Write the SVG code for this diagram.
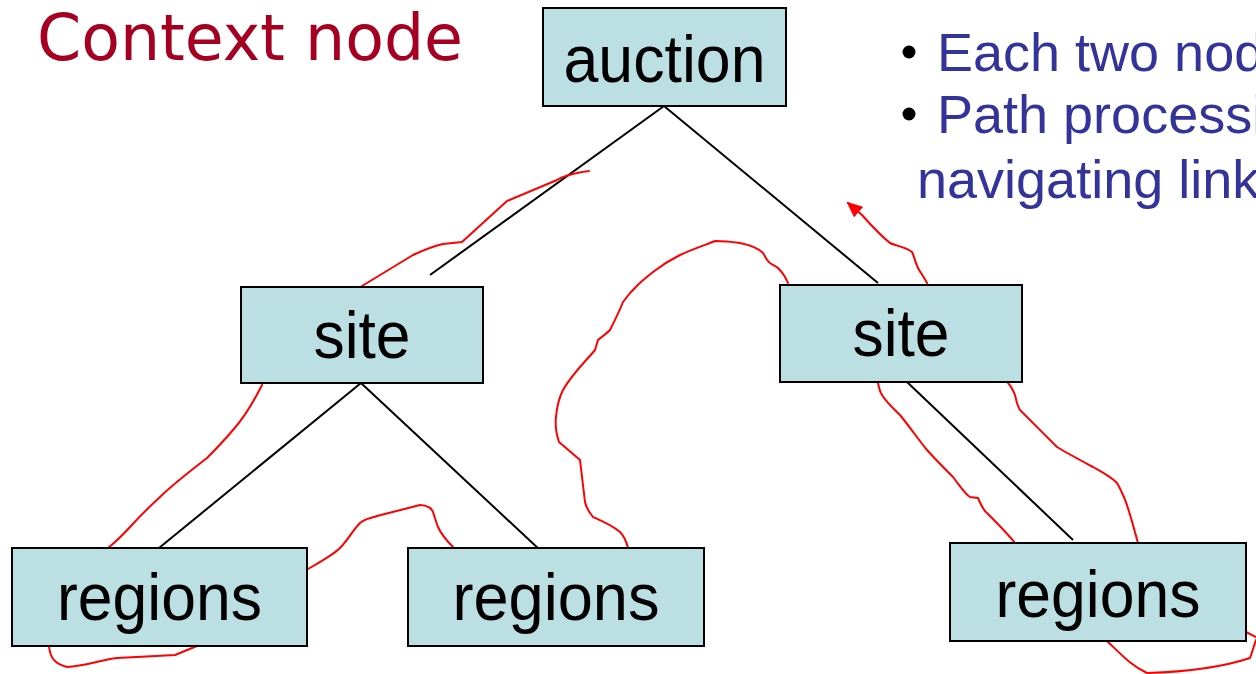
<svg xmlns="http://www.w3.org/2000/svg" width="1256" height="674" viewBox="0 0 1256 674">
<style>
.box{fill:#bbdfe3;stroke:#000;stroke-width:2}
.lbl{font-family:"Liberation Sans",Arial,sans-serif;font-size:67px;fill:#000;text-anchor:middle}
.edge{stroke:#000;stroke-width:2;fill:none}
.trace{stroke:#ff0000;stroke-width:2;fill:none;stroke-linejoin:round;stroke-linecap:round}
.bullet{font-family:"Liberation Sans",Arial,sans-serif;font-size:54px;fill:#333399}
</style>
<defs>
<marker id="arr" markerWidth="16" markerHeight="14" refX="14" refY="7" orient="auto" markerUnits="userSpaceOnUse" viewBox="0 0 16 14">
<path d="M0,0 L16,7 L0,14 Z" fill="#ff0000"/>
</marker>
</defs>
<rect width="1256" height="674" fill="#fff"/>
<text x="37" y="60" font-family="DejaVu Sans,Verdana,sans-serif" font-size="64" fill="#a50021" textLength="426" lengthAdjust="spacingAndGlyphs">Context node</text>
<g id="notes">
<circle cx="909" cy="52" r="6.5" fill="#000"/>
<circle cx="909" cy="114" r="6.5" fill="#000"/>
<text class="bullet" x="937" y="71">Each two nod</text>
<text class="bullet" x="937" y="133">Path processi</text>
<text class="bullet" x="917" y="198">navigating link</text>
</g>
<g id="connectors">
<line class="edge" x1="664" y1="106" x2="430" y2="275"/>
<line class="edge" x1="664" y1="106" x2="878" y2="283"/>
<line class="edge" x1="361" y1="383" x2="159" y2="548"/>
<line class="edge" x1="361" y1="383" x2="541" y2="551"/>
<line class="edge" x1="907" y1="382" x2="1073" y2="540"/>
</g>
<g id="traversal">
<path class="trace" d="M589,171 C575,173 563,176 557,180 L507,201 L462,242 L443,244 C430,247 413,255 413,255 L362,286"/>
<path class="trace" d="M262,385 C252,405 242,420 233,430 C222,443 214,451 207,458 C185,475 170,487 160,497 C148,508 140,516 130,527 C120,538 113,544 108,548"/>
<path class="trace" d="M49,646 C50,658 55,664 67,667 C85,666 100,660 117,658 L175,655 L197,646"/>
<path class="trace" d="M308,569 C320,562 333,555 340,548 C348,540 353,530 360,523 C366,518 372,518 377,516 L420,505 C428,505 432,509 433,512 C435,518 436,522 438,527 C442,536 448,542 453,547"/>
<path class="trace" d="M628,548 C626,540 623,535 620,532 C612,525 600,520 593,517 C589,512 586,507 585,502 L580,460 L559,442 C556,433 555,425 556,417 C557,405 560,396 563,390 C572,374 585,362 595,350 L598,340 C603,336 607,333 610,330 C616,318 620,310 623,302 C633,288 643,280 653,272 C662,265 670,260 680,255 C693,249 705,245 715,241 C725,241 733,242 740,243 C750,245 758,248 763,253 C766,258 767,261 770,263 C773,265 776,266 778,268 C783,273 786,278 788,283"/>
<path class="trace" d="M878,383 C879,388 880,392 882,395 C887,403 894,409 900,415 C909,426 918,439 927,450 C936,460 944,468 953,477 C960,486 965,494 970,497 L978,498 C981,505 983,510 987,513 C997,523 1007,533 1015,543"/>
<path class="trace" d="M1107,641 C1120,653 1130,665 1147,673 C1180,672 1220,668 1250,658 C1253,650 1254,645 1256,640"/>
<path class="trace" d="M1246,632 L1256,637"/>
<path class="trace" d="M1138,543 C1133,525 1128,505 1123,495 C1120,488 1118,485 1117,483 C1110,476 1100,471 1093,467 C1080,460 1065,452 1057,447 C1045,435 1030,420 1020,410 C1017,405 1016,400 1015,395 C1013,390 1011,386 1008,383"/>
<path class="trace" d="M927,283 C924,277 920,272 918,268 C915,262 914,256 912,252 C906,247 896,246 890,243 C880,235 870,224 862,215 L848,203" marker-end="url(#arr)"/>
</g>
<g id="node-auction">
<rect class="box" x="543" y="8" width="243" height="98"/>
<text class="lbl" x="664.5" y="82" textLength="202" lengthAdjust="spacingAndGlyphs">auction</text>
</g>
<g id="node-site-left">
<rect class="box" x="241" y="287" width="242" height="96"/>
<text class="lbl" x="362" y="358" textLength="97" lengthAdjust="spacingAndGlyphs">site</text>
</g>
<g id="node-site-right">
<rect class="box" x="780" y="285" width="242" height="97"/>
<text class="lbl" x="901" y="356" textLength="97" lengthAdjust="spacingAndGlyphs">site</text>
</g>
<g id="node-regions-1">
<rect class="box" x="12" y="548" width="295" height="98"/>
<text class="lbl" x="159.5" y="620" textLength="205" lengthAdjust="spacingAndGlyphs">regions</text>
</g>
<g id="node-regions-2">
<rect class="box" x="408" y="548" width="296" height="98"/>
<text class="lbl" x="556" y="620" textLength="207" lengthAdjust="spacingAndGlyphs">regions</text>
</g>
<g id="node-regions-3">
<rect class="box" x="950" y="543" width="296" height="98"/>
<text class="lbl" x="1098" y="617" textLength="205" lengthAdjust="spacingAndGlyphs">regions</text>
</g>
</svg>
